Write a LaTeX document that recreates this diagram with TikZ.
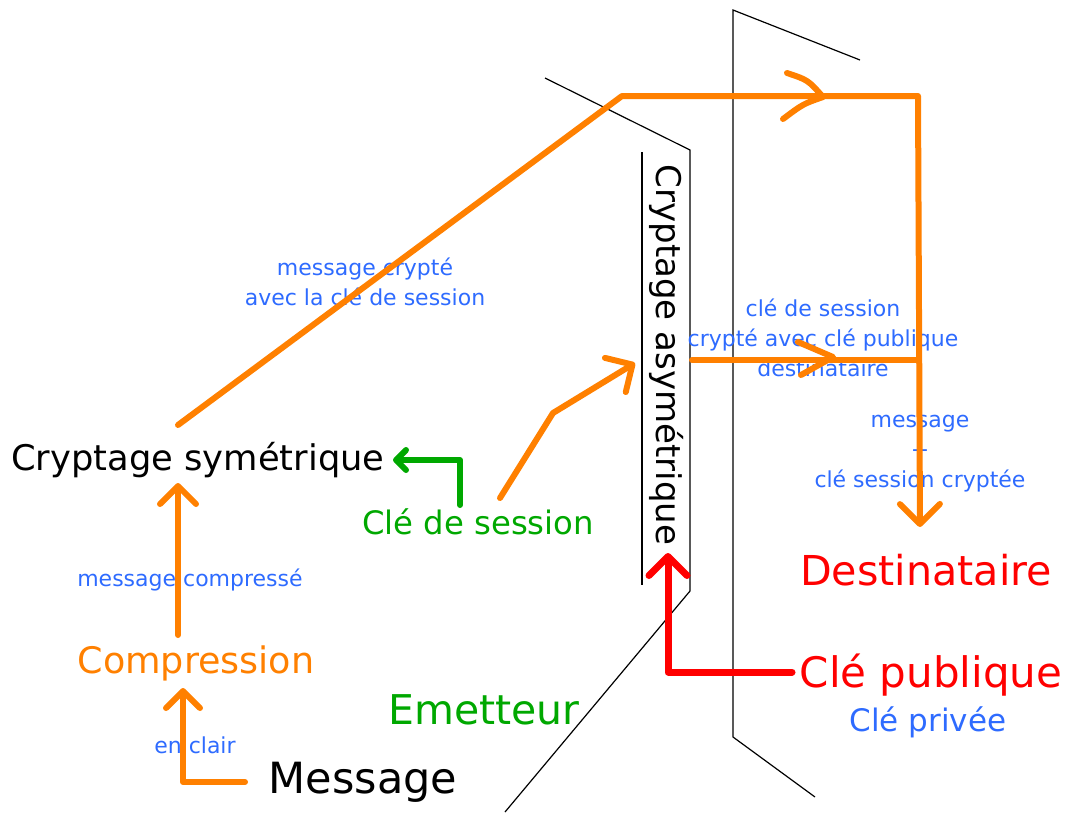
\documentclass[tikz,border=0pt]{standalone}
\usepackage{fontspec}
\setmainfont{DejaVu Sans}
\usetikzlibrary{arrows.meta}
\definecolor{orng}{HTML}{FF8000}
\definecolor{lblue}{HTML}{2E6BFF}
\definecolor{grn}{HTML}{00A800}
\definecolor{rd}{HTML}{FF0000}
\tikzset{
  txt/.style={inner sep=0pt, anchor=center},
  lbl/.style={inner sep=0pt, text=lblue, align=center, font=\fontsize{22}{30}\selectfont},
  panel/.style={draw=black, line width=1.2pt},
  opath/.style={draw=orng, line width=6pt, line cap=round, line join=round},
  gpath/.style={draw=grn, line width=6pt, line cap=round, line join=round},
  rpath/.style={draw=rd, line width=7pt, line cap=round, line join=round},
  barb/.style={-{Straight Barb[length=#1, width=2*#1, round]}},
}
\begin{document}
\begin{tikzpicture}[x=1pt,y=-1pt]
\useasboundingbox (0,0) rectangle (1066,812);
% panels
\draw[panel] (545,78) -- (690,150) -- (690,591) -- (505,812);
\draw[panel] (642,152) -- (642,585);
\draw[panel] (860,60) -- (733,10) -- (733,737) -- (815,797);
% nodes
\node[txt, font=\fontsize{35.3}{40}\selectfont] (csym) at (198,460) {Cryptage symétrique};
\node[txt, text=orng, font=\fontsize{36.5}{40}\selectfont] (comp) at (196,663) {Compression};
\node[txt, font=\fontsize{43}{48}\selectfont] (msg) at (363,782) {Message};
\node[txt, text=grn, font=\fontsize{41}{46}\selectfont] (emet) at (484,710) {Emetteur};
\node[txt, text=grn, font=\fontsize{32.3}{38}\selectfont] (cle) at (478,522) {Clé de session};
\node[txt, rotate=-90, font=\fontsize{34}{40}\selectfont] (casym) at (667,355) {Cryptage asymétrique};
\node[txt, text=rd, font=\fontsize{41.2}{46}\selectfont] (dest) at (926,570) {Destinataire};
\node[txt, text=rd, font=\fontsize{42}{46}\selectfont] (pub) at (931,675) {Clé publique};
\node[txt, text=lblue, font=\fontsize{31}{36}\selectfont] (priv) at (928,722) {Clé privée};
% labels
\node[lbl] (l1) at (195,745) {en clair};
\node[lbl] (l2) at (190,580) {message compressé};
\node[lbl] (l3) at (365,282) {message crypté\\avec la clé de session};
\node[lbl] (l4) at (823,338) {clé de session\\crypté avec clé publique\\destinataire};
\node[lbl] (l5) at (920,454) {message\\+\\clé session cryptée};
% coordinates
\coordinate (msgL) at (245,782);
\coordinate (compB) at (183,688);
\coordinate (compT) at (178,635);
\coordinate (csymB) at (178,483);
\coordinate (csymT) at (178,425);
\coordinate (csymR) at (393,460);
\coordinate (cleT) at (460,505);
\coordinate (cleR) at (500,498);
\coordinate (casymL) at (635,363);
\coordinate (casymR) at (692,360);
\coordinate (casymB) at (668,553);
\coordinate (pubL) at (792,672);
\coordinate (destT) at (920,527);
\coordinate (k1) at (622,96);
\coordinate (k2) at (918,96);
% connectors
\draw[opath, barb=17pt] (msgL) -| (compB);
\draw[opath, barb=18pt] (compT) -- (csymB);
\draw[gpath, barb=10pt] (cleT) |- (csymR);
\draw[opath, barb=20pt] (csymT) -- (k1) -- (k2) -- (destT);
\draw[opath, barb=20pt] (cleR) -- (553,413) -- (casymL);
\draw[opath] (casymR) -- (918,360);
\draw[rpath, barb=19pt] (pubL) -| (casymB);
% mid-path chevrons
\draw[opath] (787,73) .. controls (808,80) .. (823,97) .. controls (803,104) .. (783,119);
\draw[opath] (798,342) -- (833,357) -- (801,375);
\end{tikzpicture}
\end{document}
